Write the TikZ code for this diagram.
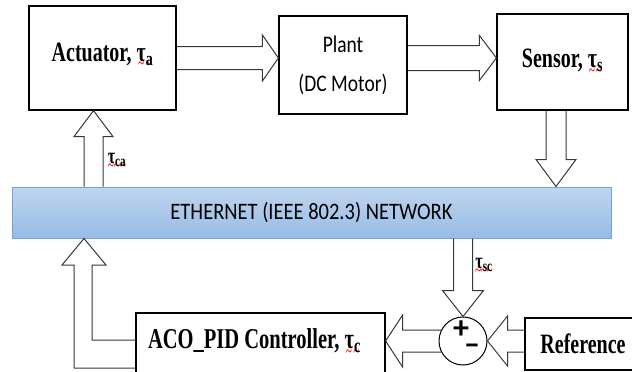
\documentclass[tikz,border=0pt]{standalone}
\usepackage{fontspec}
\setmainfont{Liberation Serif}
\newfontfamily\calfont{Carlito}
\usetikzlibrary{calc}
\definecolor{netTop}{RGB}{192,213,239}
\definecolor{netBot}{RGB}{150,187,229}
\definecolor{netEdge}{RGB}{118,162,216}
\definecolor{arrowgray}{RGB}{55,55,55}
\definecolor{spellred}{RGB}{235,20,20}
% red wavy underline under a word
\newcommand{\spellwave}[1]{\setbox0=\hbox{#1}\leavevmode
  \rlap{\raisebox{-5.5pt}{\textcolor{spellred}{\fontsize{11}{11}\selectfont\bfseries
    \hbox to \wd0{\xleaders\hbox{\char`\~}\hfill}}}}\box0}
\newcommand{\tallrm}[1]{\scalebox{1}[1.4]{#1}}
\newcommand{\tallsf}[1]{\scalebox{1}[1.22]{#1}}
% hollow block arrows: tail, tip, shaft half width, head half width, head length
\newcommand{\harrow}[5]{%
  \draw[hollow] let \p1=(#1), \p2=(#2), \n1={sign(\x2-\x1)} in
    (\x1,\y1+#3) -- (\x2-\n1*#5,\y1+#3) -- (\x2-\n1*#5,\y1+#4) -- (\x2,\y1)
    -- (\x2-\n1*#5,\y1-#4) -- (\x2-\n1*#5,\y1-#3) -- (\x1,\y1-#3);}
\newcommand{\varrow}[5]{%
  \draw[hollow] let \p1=(#1), \p2=(#2), \n1={sign(\y2-\y1)} in
    (\x1+#3,\y1) -- (\x1+#3,\y2-\n1*#5) -- (\x1+#4,\y2-\n1*#5) -- (\x1,\y2)
    -- (\x1-#4,\y2-\n1*#5) -- (\x1-#3,\y2-\n1*#5) -- (\x1-#3,\y1);}

\begin{document}
\begin{tikzpicture}[x=1pt, y=-1pt,
  blockbox/.style={draw=black, line width=1.2pt, inner sep=0pt,
    font=\bfseries\fontsize{20}{24}\selectfont},
  hollow/.style={draw=arrowgray, line width=1pt, line join=miter},
  taulabel/.style={inner sep=0pt, font=\bfseries\fontsize{16}{18}\selectfont},
  signmark/.style={inner sep=0pt, font=\calfont\bfseries\fontsize{32}{32}\selectfont}]

\useasboundingbox (0,0) rectangle (632,372);

\node[blockbox, minimum width=147pt, minimum height=104pt, text depth=12pt] (act) at (102.5,58)
  {\tallrm{Actuator, \spellwave{τ\textsubscript{a}}}};
\node[blockbox, minimum width=128pt, minimum height=98pt, align=center,
  font=\calfont\fontsize{19.5}{39}\selectfont] (plant) at (343,65)
  {\tallsf{Plant}\\\tallsf{(DC Motor)}};
\node[blockbox, minimum width=131pt, minimum height=96pt] (sens) at (562.5,62)
  {\tallrm{Sensor, \spellwave{τ\textsubscript{s}}}};

\node[draw=netEdge, line width=1pt, top color=netTop, bottom color=netBot,
  minimum width=599pt, minimum height=51pt, inner sep=0pt,
  font=\calfont\fontsize{20.5}{24}\selectfont] (net) at (311.5,212.5)
  {\scalebox{1}[1.15]{ETHERNET (IEEE 802.3) NETWORK}};

\node[blockbox, minimum width=249pt, minimum height=60pt, text depth=9pt,
  font=\bfseries\fontsize{20.5}{24}\selectfont] (ctrl) at (260.5,343)
  {\tallrm{ACO\_PID Controller, \spellwave{τ\textsubscript{c}}}\hspace*{12pt}};
\node[blockbox, minimum width=116pt, minimum height=52pt] (ref) at (583,344)
  {\tallrm{Reference}};
\node[draw=black, line width=1pt, circle, minimum size=48pt, inner sep=0pt] (sum) at (463,341) {};
\node[signmark] (plus) at (461,330) {+};
\node[signmark] (minus) at (472,349) {–};

\coordinate (ca) at (93.5,0);
\coordinate (sn) at (556,0);

% forward path
\harrow{act.east}{plant.west |- act.east}{11.5pt}{23pt}{16pt}
\harrow{plant.east |- act.east}{sens.west |- act.east}{12.5pt}{22.5pt}{17pt}
\varrow{sens.south -| sn}{net.north -| sn}{10pt}{20pt}{27pt}

% through the network
\varrow{net.north -| ca}{act.south -| ca}{9.5pt}{19.5pt}{26pt}
\varrow{net.south -| sum.north}{sum.north}{9.5pt}{20.5pt}{26pt}

% error and control signal
\harrow{ref.west |- sum.east}{sum.east}{11pt}{25pt}{20pt}
\harrow{[xshift=2.5pt]sum.west}{ctrl.east |- sum.west}{11pt}{26pt}{17pt}
\draw[hollow] (ctrl.west |- 0,340) -- (92,340) -- (92,265) -- (106,265) -- (net.south -| 84,0)
  -- (62,265) -- (74,265) -- (74,368) -- (ctrl.west |- 0,368);

\node[taulabel] (tca) at (117,162) {\tallrm{\spellwave{τ\textsubscript{ca}}}};
\node[taulabel] (tsc) at (484,267) {\tallrm{\spellwave{τ\textsubscript{sc}}}};

\end{tikzpicture}
\end{document}
